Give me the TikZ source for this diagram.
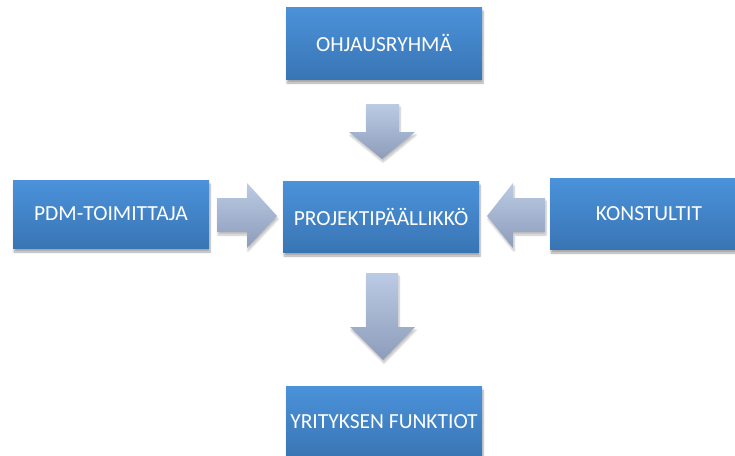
\documentclass[tikz,border=0pt]{standalone}
\usepackage{fontspec}
\setmainfont{Carlito}
\usetikzlibrary{shadows,shadows.blur}
\definecolor{boxtop}{RGB}{75,146,218}
\definecolor{boxbot}{RGB}{57,117,180}
\definecolor{arrtop}{RGB}{188,203,228}
\definecolor{arrbot}{RGB}{140,156,186}
\tikzset{
  box/.style={rectangle, draw=none, top color=boxtop, bottom color=boxbot,
    text=white, font=\fontsize{21.5}{24}\selectfont, inner sep=0pt,
    minimum width=196pt, minimum height=70pt,
    blur shadow={shadow xshift=1pt, shadow yshift=-4pt, shadow blur steps=6, shadow opacity=35}},
  blockarrow/.style={draw=none, top color=arrtop, bottom color=arrbot,
    blur shadow={shadow xshift=1pt, shadow yshift=-3pt, shadow blur steps=6, shadow opacity=25}}
}
\begin{document}
\begin{tikzpicture}[x=1pt,y=-1pt]
\useasboundingbox (0,0) rectangle (735,455);
% boxes
\node[box, minimum height=72pt] (ohj) at (384,43) {OHJAUSRYHMÄ};
\node[box, minimum height=68pt] (pdm) at (111,214) {PDM-TOIMITTAJA};
\node[box, minimum height=71pt] (pp) at (381,216.5) {PROJEKTIPÄÄLLIKKÖ};
\node[box, minimum width=187pt, minimum height=71pt] (kon) at (643.5,213.5) {\hspace*{11pt}KONSTULTIT};
\node[box, minimum height=72pt] (yri) at (384,422) {YRITYKSEN FUNKTIOT};
% block arrows
\path[blockarrow] (366,104) -- (399,104) -- (399,132) -- (415,132) -- (382,159) -- (349,132) -- (366,132) -- cycle;
\path[blockarrow] (366,273) -- (398,273) -- (398,327) -- (415,327) -- (383,360) -- (350,327) -- (366,327) -- cycle;
\path[blockarrow] (217,198) -- (247,198) -- (247,183) -- (277,216) -- (247,248) -- (247,232) -- (217,232) -- cycle;
\path[blockarrow] (545,198) -- (513,198) -- (513,183) -- (487,216) -- (513,248) -- (513,232) -- (545,232) -- cycle;
\end{tikzpicture}
\end{document}
